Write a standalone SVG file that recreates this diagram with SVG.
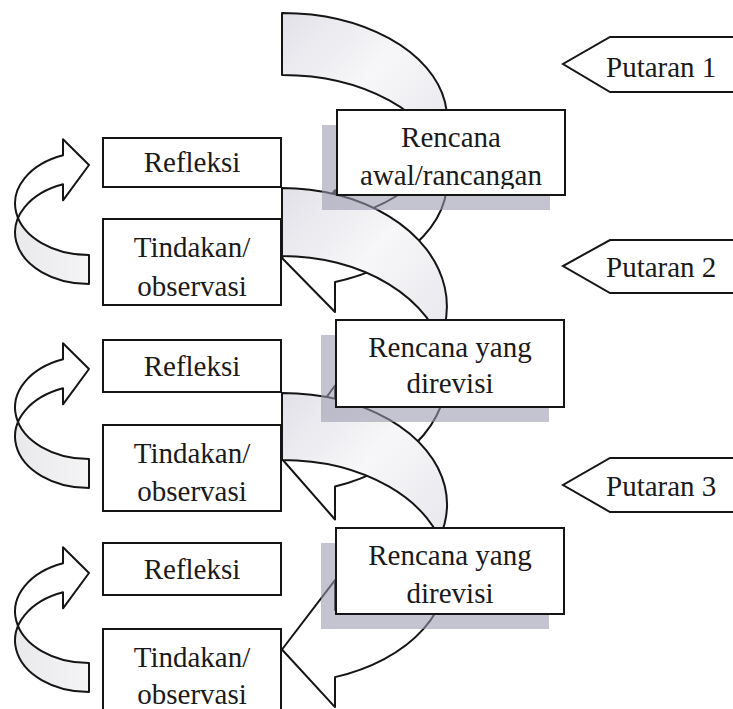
<svg xmlns="http://www.w3.org/2000/svg" width="733" height="709" viewBox="0 0 733 709">
<defs>
<style>
.bx{fill:#fff;stroke:#151515;stroke-width:2}
.sh{fill:#9a9aae;fill-opacity:.58}
.ln{fill:none;stroke:#151515;stroke-width:2;stroke-linejoin:round}
.fr{fill:#fff}
.bk{fill:url(#gBig)}
.bs{fill:url(#gSmall)}
.t{font-family:"Liberation Serif","Times New Roman",serif;font-size:29px;fill:#1a1a1a;text-anchor:middle}
.tp{font-family:"Liberation Serif","Times New Roman",serif;font-size:29px;fill:#1a1a1a;text-anchor:start}
</style>
<linearGradient id="gBig" x1="0" y1="0" x2="1" y2="1">
<stop offset="0" stop-color="#e1e1e8"/>
<stop offset="0.45" stop-color="#f7f7f9"/>
<stop offset="1" stop-color="#e4e4ea"/>
</linearGradient>
<linearGradient id="gSmall" x1="0" y1="0" x2="1" y2="0">
<stop offset="0" stop-color="#e9e9ec"/>
<stop offset="1" stop-color="#f4f4f5"/>
</linearGradient>
<clipPath id="clipR1"><rect x="337" y="110" width="228" height="79"/></clipPath>
</defs>

<g id="connectors">
  <g id="arrow-rencana1-tindakan1">
    <path class="bk" d="M282,13 A165,106.3 0 0 1 447,119.3 L447,181.3 A165,106.3 0 0 0 282,75 Z"/>
    <path class="fr" d="M282,258 L335,190 L335,220 A165,106.3 0 0 0 447,119.3 L447,181.3 A165,106.3 0 0 1 335,282 L335,312 Z"/>
    <path class="ln" d="M282,13 A165,106.3 0 0 1 335,220 L335,190 L282,258 L335,312 L335,282 A165,106.3 0 0 0 282,75 Z"/>
  </g>
  <g id="arrow-refleksi1-rencana2">
    <path class="bk" d="M282,188 A165,118.4 0 0 1 447,306.4 L447,374.4 A165,118.4 0 0 0 282,256 Z"/>
    <path class="fr" d="M282,459 L335,385.5 L335,418.5 A165,118.4 0 0 0 447,306.4 L447,374.4 A165,118.4 0 0 1 335,486.5 L335,519.5 Z"/>
    <path class="ln" d="M282,188 A165,118.4 0 0 1 335,418.5 L335,385.5 L282,459 L335,519.5 L335,486.5 A165,118.4 0 0 0 282,256 Z"/>
  </g>
  <g id="arrow-refleksi2-rencana3">
    <path class="bk" d="M282,393 A165,111.5 0 0 1 447,504.5 L447,571.5 A165,111.5 0 0 0 282,460 Z"/>
    <path class="fr" d="M282,649.5 L335,580.1 L335,610.1 A165,111.5 0 0 0 447,504.5 L447,571.5 A165,111.5 0 0 1 335,677.1 L335,707.1 Z"/>
    <path class="ln" d="M282,393 A165,111.5 0 0 1 335,610.1 L335,580.1 L282,649.5 L335,707.1 L335,677.1 A165,111.5 0 0 0 282,460 Z"/>
  </g>
  <g id="arrow-tindakan1-refleksi1">
    <path class="bs" d="M89,284 A74,51.5 0 0 1 15,232.5 L15,203.5 A74,51.5 0 0 0 89,255 Z"/>
    <path class="fr" d="M15,203.5 A74,51.5 0 0 1 63,155.3 L63,139.3 L89,165 L63,200.3 L63,184.3 A74,51.5 0 0 0 15,232.5 Z"/>
    <path class="ln" d="M89,284 A74,51.5 0 0 1 63,184.3 L63,200.3 L89,165 L63,139.3 L63,155.3 A74,51.5 0 0 0 89,255 Z"/>
  </g>
  <g id="arrow-tindakan2-refleksi2" transform="translate(0,204)">
    <path class="bs" d="M89,284 A74,51.5 0 0 1 15,232.5 L15,203.5 A74,51.5 0 0 0 89,255 Z"/>
    <path class="fr" d="M15,203.5 A74,51.5 0 0 1 63,155.3 L63,139.3 L89,165 L63,200.3 L63,184.3 A74,51.5 0 0 0 15,232.5 Z"/>
    <path class="ln" d="M89,284 A74,51.5 0 0 1 63,184.3 L63,200.3 L89,165 L63,139.3 L63,155.3 A74,51.5 0 0 0 89,255 Z"/>
  </g>
  <g id="arrow-tindakan3-refleksi3" transform="translate(0,408)">
    <path class="bs" d="M89,284 A74,51.5 0 0 1 15,232.5 L15,203.5 A74,51.5 0 0 0 89,255 Z"/>
    <path class="fr" d="M15,203.5 A74,51.5 0 0 1 63,155.3 L63,139.3 L89,165 L63,200.3 L63,184.3 A74,51.5 0 0 0 15,232.5 Z"/>
    <path class="ln" d="M89,284 A74,51.5 0 0 1 63,184.3 L63,200.3 L89,165 L63,139.3 L63,155.3 A74,51.5 0 0 0 89,255 Z"/>
  </g>
</g>

<g id="rencana1">
  <rect class="sh" x="322" y="125" width="228" height="85"/>
  <rect class="bx" x="337" y="110" width="228" height="85"/>
  <g clip-path="url(#clipR1)">
    <text class="t" x="451" y="147">Rencana</text>
    <text class="t" x="451" y="185">awal/rancangan</text>
  </g>
</g>
<g id="rencana2">
  <rect class="sh" x="321" y="335" width="228" height="87"/>
  <rect class="bx" x="336" y="320" width="228" height="87"/>
  <text class="t" x="450" y="357">Rencana yang</text>
  <text class="t" x="450" y="393">direvisi</text>
</g>
<g id="rencana3">
  <rect class="sh" x="321" y="543" width="228" height="86"/>
  <rect class="bx" x="336" y="528" width="228" height="86"/>
  <text class="t" x="450" y="565">Rencana yang</text>
  <text class="t" x="450" y="603">direvisi</text>
</g>

<g id="refleksi1">
  <rect class="bx" x="103" y="138" width="178" height="49"/>
  <text class="t" x="192" y="172">Refleksi</text>
</g>
<g id="tindakan1">
  <rect class="bx" x="103" y="219" width="178" height="86"/>
  <text class="t" x="192" y="257">Tindakan/</text>
  <text class="t" x="192" y="296">observasi</text>
</g>
<g id="refleksi2">
  <rect class="bx" x="103" y="340" width="178" height="52"/>
  <text class="t" x="192" y="376">Refleksi</text>
</g>
<g id="tindakan2">
  <rect class="bx" x="103" y="425" width="178" height="86"/>
  <text class="t" x="192" y="463">Tindakan/</text>
  <text class="t" x="192" y="501">observasi</text>
</g>
<g id="refleksi3">
  <rect class="bx" x="103" y="543" width="178" height="52"/>
  <text class="t" x="192" y="579">Refleksi</text>
</g>
<g id="tindakan3">
  <rect class="bx" x="103" y="629" width="178" height="90"/>
  <text class="t" x="192" y="667">Tindakan/</text>
  <text class="t" x="192" y="704">observasi</text>
</g>

<g id="putaran1">
  <path class="bx" d="M760,37 L610,37 L563,64 L610,92 L760,92"/>
  <text class="tp" x="606" y="77">Putaran 1</text>
</g>
<g id="putaran2">
  <path class="bx" d="M760,240 L610,240 L563,266 L610,293 L760,293"/>
  <text class="tp" x="606" y="277">Putaran 2</text>
</g>
<g id="putaran3">
  <path class="bx" d="M760,458 L610,458 L563,485 L610,512 L760,512"/>
  <text class="tp" x="606" y="496">Putaran 3</text>
</g>
</svg>
